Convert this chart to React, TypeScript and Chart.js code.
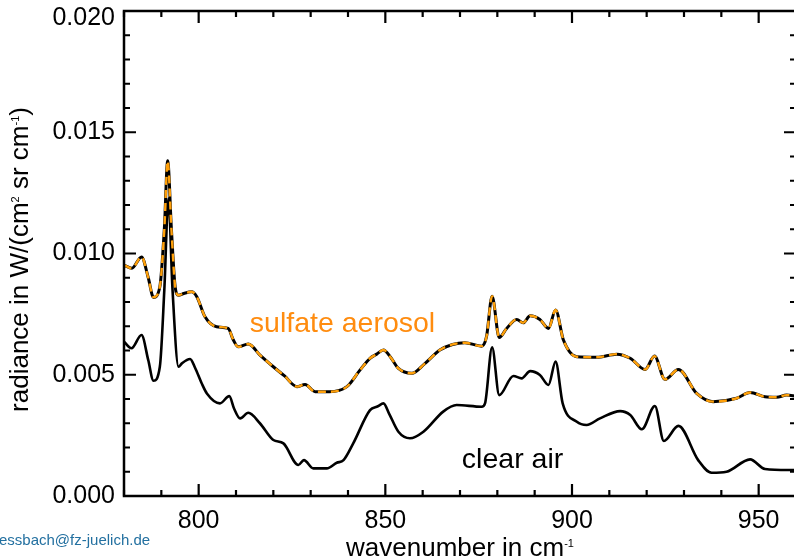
import React, { useEffect, useRef } from "react";
import { Chart, registerables } from "chart.js";

Chart.register(...registerables);

// ---- data (wavenumber in cm^-1, radiance in W/(cm² sr cm⁻¹)) ----
const clearWavenumbers = [
  780, 782, 784.7, 786.5, 787.9, 789.6, 790.8, 791.9, 793, 794.6, 795.5, 797.7, 799,
  800.8, 802.2, 805.7, 808.2, 809.5, 811.1, 813.3, 816.4, 820, 822.7, 826.7, 828.2,
  830.7, 834.3, 837, 838.8, 841.4, 845.9, 848, 849.5, 851, 853.5, 856.6, 860.2, 865.5,
  869.1, 875.8, 876.7, 878.6, 880.5, 884.3, 886.5, 888.8, 891.4, 893.7, 895.6, 897.5,
  901.3, 903.9, 907.5, 912.9, 915.6, 918.7, 922.2, 924.6, 928.5, 933.8, 937.4, 941.4,
  947.7, 951.7, 957.9, 960,
];
const clearRadiance = [
  0.00636, 0.00609, 0.00664, 0.0056, 0.00475, 0.00533, 0.0085, 0.01227, 0.0085, 0.00533,
  0.00547, 0.00565, 0.0053, 0.00465, 0.00423, 0.00382, 0.00412, 0.0036, 0.0032, 0.00343,
  0.003, 0.00231, 0.00217, 0.00128, 0.00148, 0.00114, 0.00114, 0.00137, 0.00148, 0.00217,
  0.00354, 0.0037, 0.00382, 0.0034, 0.00265, 0.00238, 0.00265, 0.00348, 0.00375, 0.00368,
  0.00382, 0.00613, 0.00416, 0.00495, 0.00485, 0.00515, 0.00499, 0.00458, 0.00554,
  0.00382, 0.00306, 0.00293, 0.0032, 0.0035, 0.00334, 0.00275, 0.00371, 0.00227, 0.00289,
  0.00148, 0.00096, 0.001, 0.00151, 0.00111, 0.00107, 0.00107,
];

const sulfateWavenumbers = [
  780, 782.1, 784.7, 786.5, 787.9, 789.6, 790.8, 791.7, 792.7, 793.7, 794.6, 796, 798.1,
  799.5, 801.7, 804.8, 807.9, 809.3, 810.6, 813.3, 816.5, 820, 823, 826.3, 828.5, 831.2,
  835, 839.7, 843.2, 845.9, 847.7, 849.5, 851.5, 853.5, 857.1, 860.5, 864.6, 868, 871.3,
  875.8, 877.1, 878.6, 880.5, 882.5, 885.2, 886.9, 888.8, 891.4, 893.7, 895.6, 897.7,
  901.3, 906.6, 912, 915.6, 919.6, 922.1, 924.9, 928.5, 933.4, 937.8, 944.1, 947.7, 951.7,
  954.8, 957.5, 960,
];
const sulfateRadiance = [
  0.00952, 0.00939, 0.00986, 0.009, 0.00819, 0.00863, 0.011, 0.01382, 0.011, 0.00863,
  0.00828, 0.00835, 0.00842, 0.00822, 0.00739, 0.00698, 0.00691, 0.00643, 0.00615, 0.00627,
  0.0058, 0.00533, 0.00495, 0.00451, 0.0046, 0.0043, 0.0043, 0.00451, 0.00519, 0.00568,
  0.00585, 0.00602, 0.0057, 0.00526, 0.00506, 0.00545, 0.00602, 0.00625, 0.00632, 0.00618,
  0.00657, 0.00824, 0.00654, 0.00691, 0.00728, 0.00714, 0.00743, 0.00728, 0.00691, 0.00767,
  0.00643, 0.00574, 0.00572, 0.00585, 0.00568, 0.00522, 0.00577, 0.00481, 0.00522, 0.00423,
  0.00389, 0.00403, 0.00427, 0.00409, 0.00407, 0.00416, 0.00412,
];

const xMin = 780;
const xMax = 960;
const yMin = 0;
const yMax = 0.02;
const xTickValues = [800, 850, 900, 950];
const yTickValues = [0, 0.005, 0.01, 0.015, 0.02];
const xMinorStep = 10;
const yMinorStep = 0.001;

const FONT = "'Liberation Sans', Arial, Helvetica, sans-serif";
const TICK_FONT_SIZE = 25;

const toPoints = (xs: number[], ys: number[]) => xs.map((x, i) => ({ x, y: ys[i] }));
const fmtY = (v: number) => Number(v).toFixed(3);

const framePlugin = {
  id: "frameTicks",
  afterDatasetsDraw(chart: any) {
    const { ctx, chartArea, scales } = chart;
    const { left, right, top, bottom } = chartArea;
    const x = scales.x;
    const y = scales.y;
    ctx.save();
    ctx.strokeStyle = "#000";
    ctx.lineWidth = 2.5;
    ctx.lineCap = "butt";
    ctx.beginPath();
    ctx.rect(left, top, right - left, bottom - top);
    ctx.stroke();
    ctx.lineWidth = 2.2;
    ctx.beginPath();
    for (let v = xMin; v <= xMax + 1e-9; v += xMinorStep) {
      const px = x.getPixelForValue(v);
      const len = Math.abs(v % 50) < 1e-6 ? 12 : 6;
      ctx.moveTo(px, bottom);
      ctx.lineTo(px, bottom - len);
      ctx.moveTo(px, top);
      ctx.lineTo(px, top + len);
    }
    const n = Math.round((yMax - yMin) / yMinorStep);
    for (let i = 0; i <= n; i++) {
      const v = yMin + i * yMinorStep;
      const py = y.getPixelForValue(v);
      const len = i % 5 === 0 ? 12 : 6;
      ctx.moveTo(left, py);
      ctx.lineTo(left + len, py);
      ctx.moveTo(right, py);
      ctx.lineTo(right - len, py);
    }
    ctx.stroke();
    ctx.restore();
  },
};

function drawWithSup(
  ctx: CanvasRenderingContext2D,
  parts: { t: string; sup?: boolean }[],
  cx: number,
  baseline: number,
  size: number,
  supSize: number,
  supRise: number
) {
  const widths = parts.map((p) => {
    ctx.font = `${p.sup ? supSize : size}px ${FONT}`;
    return ctx.measureText(p.t).width;
  });
  const total = widths.reduce((a, b) => a + b, 0);
  let xPos = cx - total / 2;
  ctx.textAlign = "left";
  ctx.textBaseline = "alphabetic";
  parts.forEach((p, i) => {
    ctx.font = `${p.sup ? supSize : size}px ${FONT}`;
    ctx.fillText(p.t, xPos, p.sup ? baseline - supRise : baseline);
    xPos += widths[i];
  });
}

const textPlugin = {
  id: "texts",
  afterDraw(chart: any) {
    const { ctx, chartArea, scales } = chart;
    const x = scales.x;
    const y = scales.y;
    ctx.save();

    // top y tick label, nudged down inside the canvas as in the original
    ctx.font = `${TICK_FONT_SIZE}px ${FONT}`;
    ctx.fillStyle = "#000";
    ctx.textAlign = "right";
    ctx.textBaseline = "middle";
    ctx.fillText(fmtY(yMax), chartArea.left - 9, y.getPixelForValue(yMax) + 7);

    // annotations
    ctx.textAlign = "left";
    ctx.textBaseline = "alphabetic";
    ctx.font = `28.5px ${FONT}`;
    ctx.fillStyle = "#ff8c0f";
    ctx.fillText("sulfate aerosol", x.getPixelForValue(813.7), y.getPixelForValue(0.00676));
    ctx.fillStyle = "#000";
    ctx.fillText("clear air", x.getPixelForValue(870.5), y.getPixelForValue(0.001154));

    // x axis title
    ctx.fillStyle = "#000";
    const cx = (chartArea.left + chartArea.right) / 2;
    drawWithSup(ctx, [{ t: "wavenumber in cm" }, { t: "-1", sup: true }], cx, 556, 26, 11, 9);

    // y axis title
    ctx.save();
    ctx.translate(28, (chartArea.top + chartArea.bottom) / 2 + 6);
    ctx.rotate(-Math.PI / 2);
    drawWithSup(
      ctx,
      [
        { t: "radiance in W/(cm" },
        { t: "2", sup: true },
        { t: " sr cm" },
        { t: "-1", sup: true },
        { t: ")" },
      ],
      0,
      0,
      26,
      11,
      9
    );
    ctx.restore();

    // footer email
    ctx.font = `15px ${FONT}`;
    ctx.fillStyle = "#2370a0";
    ctx.textAlign = "left";
    ctx.fillText("essbach@fz-juelich.de", -1, 545);
    ctx.restore();
  },
};

export default function App() {
  const canvasRef = useRef<HTMLCanvasElement | null>(null);

  useEffect(() => {
    const canvas = canvasRef.current;
    if (!canvas) return;
    const chart = new Chart(canvas, {
      type: "line",
      data: {
        datasets: [
          {
            label: "sulfate aerosol",
            data: toPoints(sulfateWavenumbers, sulfateRadiance),
            borderColor: "#ffa00a",
            borderWidth: 2.4,
            borderDash: [8, 5],
            pointRadius: 0,
            cubicInterpolationMode: "monotone",
            fill: false,
            order: 0,
          },
          {
            label: "sulfate aerosol (base)",
            data: toPoints(sulfateWavenumbers, sulfateRadiance),
            borderColor: "#000",
            borderWidth: 3,
            pointRadius: 0,
            cubicInterpolationMode: "monotone",
            fill: false,
            order: 1,
          },
          {
            label: "clear air",
            data: toPoints(clearWavenumbers, clearRadiance),
            borderColor: "#000",
            borderWidth: 2.6,
            pointRadius: 0,
            cubicInterpolationMode: "monotone",
            fill: false,
            order: 2,
          },
        ],
      },
      options: {
        animation: false,
        responsive: false,
        maintainAspectRatio: false,
        devicePixelRatio: 1,
        layout: { padding: { top: 11, right: 14, left: 0, bottom: 0 } },
        plugins: { legend: { display: false }, tooltip: { enabled: false }, title: { display: false } },
        scales: {
          x: {
            type: "linear",
            min: xMin,
            max: xMax,
            afterBuildTicks: (s: any) => {
              s.ticks = xTickValues.map((v) => ({ value: v }));
            },
            afterFit: (s: any) => {
              s.height = 64;
              s.paddingLeft = 0;
              s.paddingRight = 0;
            },
            ticks: {
              font: { size: TICK_FONT_SIZE, family: FONT },
              color: "#000",
              padding: 10,
              maxRotation: 0,
              autoSkip: false,
              callback: (v: any) => String(v),
            },
            grid: { display: false, drawTicks: false },
            border: { display: false },
          },
          y: {
            type: "linear",
            min: yMin,
            max: yMax,
            afterBuildTicks: (s: any) => {
              s.ticks = yTickValues.map((v) => ({ value: v }));
            },
            afterFit: (s: any) => {
              s.width = 124;
              s.paddingTop = 0;
              s.paddingBottom = 0;
            },
            ticks: {
              font: { size: TICK_FONT_SIZE, family: FONT },
              color: "#000",
              padding: 9,
              autoSkip: false,
              // the top label is drawn by the text plugin, shifted down
              callback: (v: any) => (Math.abs(v - yMax) < 1e-9 ? "" : fmtY(v)),
            },
            grid: { display: false, drawTicks: false },
            border: { display: false },
          },
        },
      },
      plugins: [framePlugin, textPlugin],
    } as any);
    return () => chart.destroy();
  }, []);

  return (
    <div
      style={{
        position: "fixed",
        left: 0,
        top: 0,
        width: 794,
        height: 560,
        overflow: "hidden",
        background: "#fff",
      }}
    >
      <canvas ref={canvasRef} width={810} height={560} style={{ width: 810, height: 560, display: "block" }} />
    </div>
  );
}
